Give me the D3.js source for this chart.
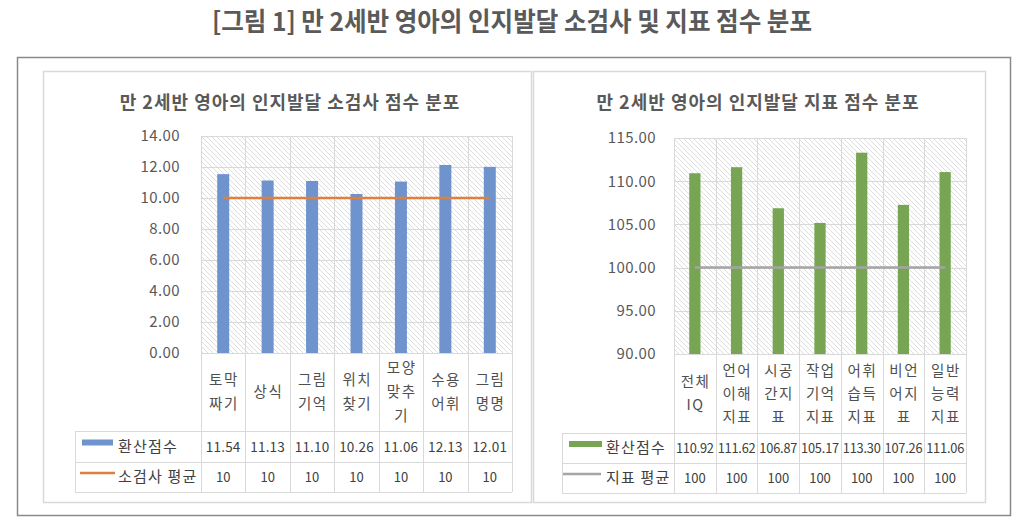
<!DOCTYPE html>
<html><head><meta charset="utf-8">
<script src="https://cdn.jsdelivr.net/npm/d3@7"></script>
<style>body{margin:0;background:#fff} svg{display:block}</style>
</head><body><svg id="c" width="1024" height="529"></svg>
<script>
const mainTitle = "[그림 1] 만 2세반 영아의 인지발달 소검사 및 지표 점수 분포";

const leftTitle = "만 2세반 영아의 인지발달 소검사 점수 분포";
const leftCategories = [["토막","짜기"],["상식"],["그림","기억"],["위치","찾기"],["모양","맞추","기"],["수용","어휘"],["그림","명명"]];
const leftScores = [11.54, 11.13, 11.10, 10.26, 11.06, 12.13, 12.01];
const leftMeans = [10, 10, 10, 10, 10, 10, 10];
const leftTicks = [0, 2, 4, 6, 8, 10, 12, 14];
const leftSeriesNames = ["환산점수", "소검사 평균"];

const rightTitle = "만 2세반 영아의 인지발달 지표 점수 분포";
const rightCategories = [["전체","IQ"],["언어","이해","지표"],["시공","간지","표"],["작업","기억","지표"],["어휘","습득","지표"],["비언","어지","표"],["일반","능력","지표"]];
const rightScores = [110.92, 111.62, 106.87, 105.17, 113.30, 107.26, 111.06];
const rightMeans = [100, 100, 100, 100, 100, 100, 100];
const rightTicks = [90, 95, 100, 105, 110, 115];
const rightSeriesNames = ["환산점수", "지표 평균"];

const FONT = "'Noto Sans CJK KR','Noto Sans',sans-serif";
const svg = d3.select("#c");

// hatch pattern
const defs = svg.append("defs");
const pat = defs.append("pattern").attr("id","hatch").attr("patternUnits","userSpaceOnUse")
  .attr("width",5).attr("height",5);
pat.append("rect").attr("width",5).attr("height",5).attr("fill","#fff");
pat.append("path").attr("d","M-1,-1 L6,6 M-1,4 L1,6 M4,-1 L6,1")
  .attr("stroke","#dadada").attr("stroke-width",0.9);

// main title
svg.append("text").attr("x",512).attr("y",31).attr("text-anchor","middle")
  .attr("font-family",FONT).attr("font-weight","bold").attr("font-size",26)
  .attr("fill","#5a5a5a").attr("textLength",600).attr("lengthAdjust","spacingAndGlyphs")
  .text(mainTitle);

// outer frame
svg.append("rect").attr("x",17.5).attr("y",57.5).attr("width",993).attr("height",458)
  .attr("fill","none").attr("stroke","#8a8a8a").attr("stroke-width",1.5);

function drawPanel(cfg){
  const g = svg.append("g");
  g.append("rect").attr("x",cfg.box[0]+0.5).attr("y",cfg.box[1]+0.5)
    .attr("width",cfg.box[2]-cfg.box[0]).attr("height",cfg.box[3]-cfg.box[1])
    .attr("fill","#fff").attr("stroke","#d9d9d9").attr("stroke-width",1.5);

  g.append("text").attr("x",cfg.titleX).attr("y",cfg.titleY).attr("text-anchor","middle")
    .attr("font-family",FONT).attr("font-weight","bold").attr("font-size",18)
    .attr("letter-spacing",1).attr("fill","#595959").text(cfg.title);

  const idx = cfg.categories.map((d,i)=>i);
  const x = d3.scaleBand().domain(idx).range([cfg.plotX0,cfg.plotX1]).padding(0);
  const y = d3.scaleLinear().domain([cfg.ticks[0],cfg.ticks[cfg.ticks.length-1]]).range([cfg.plotY1,cfg.plotY0]);

  // hatch background
  g.append("rect").attr("x",cfg.plotX0).attr("y",cfg.plotY0)
    .attr("width",cfg.plotX1-cfg.plotX0).attr("height",cfg.plotY1-cfg.plotY0)
    .attr("fill","url(#hatch)");

  // horizontal gridlines + y labels via axis
  const ya = g.append("g").attr("transform",`translate(${cfg.plotX0},0)`)
    .call(d3.axisLeft(y).tickValues(cfg.ticks).tickSize(-(cfg.plotX1-cfg.plotX0)).tickPadding(cfg.tickPad).tickFormat(d3.format(".2f")));
  ya.select(".domain").remove();
  ya.selectAll("line").attr("stroke","#d9d9d9").attr("shape-rendering","crispEdges");
  ya.selectAll("text").attr("font-family",FONT).attr("font-size",15).attr("letter-spacing",0.4).attr("fill","#595959");

  const rowTops = cfg.rows;
  const bounds = idx.map(i=>x(i)).concat([cfg.plotX1]);
  g.append("g").selectAll("line").data(bounds).join("line")
    .attr("x1",d=>Math.round(d)+0.5).attr("x2",d=>Math.round(d)+0.5)
    .attr("y1",cfg.plotY0).attr("y2",rowTops[2])
    .attr("stroke","#d9d9d9");
  rowTops.forEach(r=>{
    g.append("line").attr("x1",cfg.tableX).attr("x2",cfg.plotX1)
      .attr("y1",r+0.5).attr("y2",r+0.5).attr("stroke","#d9d9d9");
  });
  g.append("line").attr("x1",cfg.tableX+0.5).attr("x2",cfg.tableX+0.5)
    .attr("y1",rowTops[0]).attr("y2",rowTops[2]).attr("stroke","#d9d9d9");

  // bars
  const bw = x.bandwidth()*0.27;
  g.append("g").selectAll("rect").data(cfg.scores).join("rect")
    .attr("x",(d,i)=>x(i)+x.bandwidth()/2-bw/2).attr("width",bw)
    .attr("y",d=>y(d)).attr("height",d=>y(cfg.ticks[0])-y(d))
    .attr("fill",cfg.barColor);

  // mean line
  const line = d3.line().x((d,i)=>x(i)+x.bandwidth()/2).y(d=>y(d));
  g.append("path").datum(cfg.means).attr("d",line).attr("fill","none")
    .attr("stroke",cfg.lineColor).attr("stroke-width",2.5);

  // category labels
  const catMid = (cfg.plotY1 + rowTops[0])/2;
  const lh = cfg.lineH;
  cfg.categories.forEach((lines,i)=>{
    const t = g.append("text").attr("text-anchor","middle").attr("font-family",FONT)
      .attr("font-size",14.5).attr("letter-spacing",1.5).attr("fill","#505050");
    lines.forEach((s,j)=>{
      t.append("tspan").attr("x",x(i)+x.bandwidth()/2+0.75)
        .attr("y",catMid + (j-(lines.length-1)/2)*lh + 5).text(s);
    });
  });

  // table values
  const r1 = (rowTops[0]+rowTops[1])/2, r2 = (rowTops[1]+rowTops[2])/2;
  g.append("g").selectAll("text").data(cfg.scores).join("text")
    .attr("x",(d,i)=>x(i)+x.bandwidth()/2).attr("y",r1+5).attr("text-anchor","middle")
    .attr("font-family",FONT).attr("font-size",cfg.valSize).attr("fill","#404040")
    .attr("letter-spacing",cfg.valSpacing)
    .text(d=>d3.format(".2f")(d));
  g.append("g").selectAll("text").data(cfg.means).join("text")
    .attr("x",(d,i)=>x(i)+x.bandwidth()/2).attr("y",r2+5).attr("text-anchor","middle")
    .attr("font-family",FONT).attr("font-size",13).attr("fill","#404040")
    .text(d=>d3.format("d")(d));

  // legend keys
  g.append("rect").attr("x",cfg.key[0]).attr("y",r1-7).attr("width",cfg.key[1]-cfg.key[0]).attr("height",6)
    .attr("fill",cfg.barColor);
  g.append("line").attr("x1",cfg.key2[0]).attr("x2",cfg.key2[1]).attr("y1",r2-4).attr("y2",r2-4)
    .attr("stroke",cfg.lineColor).attr("stroke-width",2.5);
  cfg.names.forEach((n,k)=>{
    g.append("text").attr("x",cfg.nameX).attr("y",(k?r2:r1)+5)
      .attr("font-family",FONT).attr("font-size",15).attr("letter-spacing",1.2)
      .attr("fill","#404040").text(n);
  });
}

drawPanel({
  box:[43,71,531,502], title:leftTitle, titleX:290, titleY:109,
  categories:leftCategories, scores:leftScores, means:leftMeans, ticks:leftTicks, names:leftSeriesNames,
  plotX0:201, plotX1:512, plotY0:136, plotY1:353, rows:[431,462,492], tableX:75,
  tickPad:21, lineH:24, barColor:"#6f93cd", lineColor:"#e0803e",
  key:[82,113], key2:[80,115], nameX:118, valSize:13.5, valSpacing:0.2
});
drawPanel({
  box:[533,71,985,502], title:rightTitle, titleX:758, titleY:109,
  categories:rightCategories, scores:rightScores, means:rightMeans, ticks:rightTicks, names:rightSeriesNames,
  plotX0:674, plotX1:966, plotY0:138, plotY1:354, rows:[433,463,493], tableX:562,
  tickPad:18, lineH:23, barColor:"#77a553", lineColor:"#a5a5a5",
  key:[569,602], key2:[563,601], nameX:606, valSize:12.8, valSpacing:-0.2
});
</script></body></html>
